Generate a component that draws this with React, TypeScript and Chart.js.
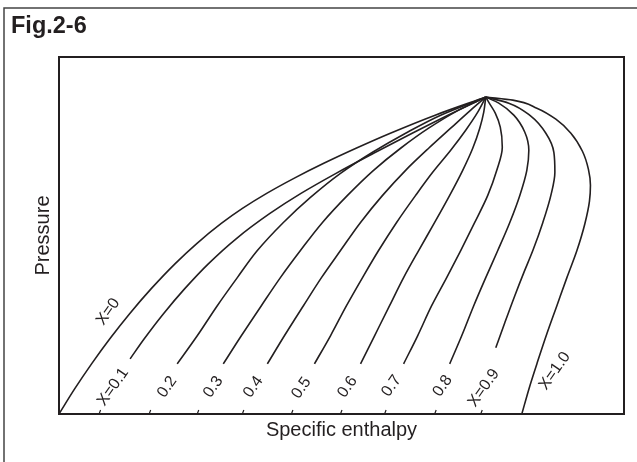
import React, { useEffect, useRef } from "react";
import { Chart, registerables } from "chart.js";

Chart.register(...registerables);

type Pt = [number, number];

// Axis extents (relative units)
const H_MAX = 112.8;
const P_MAX = 89;

// Quality lines on the P-h diagram: [specific enthalpy, pressure]
const lineX00: Pt[] = [[0, 0], [3.12, 6.25], [6.5, 12.5], [10.15, 18.75], [14.1, 25], [18.42, 31.25], [23.2, 37.5], [27.5, 42.5], [32.4, 47.5], [36.62, 51.25], [41.46, 55], [46.9, 58.75], [52.86, 62.5], [59.3, 66.25], [66.15, 70], [75.1, 74.5], [85.2, 79]];
const lineX01: Pt[] = [[14.2, 13.75], [17.02, 18.75], [20.86, 25], [25.11, 31.25], [29.86, 37.5], [35.42, 43.75], [42.11, 50], [48.31, 55], [55.31, 60], [62.81, 65], [70.51, 70], [77.66, 74.5], [85.2, 79]];
const lineX02: Pt[] = [[23.6, 12.5], [27.6, 19.5], [31.6, 27], [35.6, 34], [39.6, 40.75], [44.8, 47.75], [50.2, 54], [56.2, 60], [62.6, 65.25], [69.2, 70], [76.2, 74.5], [85.2, 79]];
const lineX03: Pt[] = [[32.8, 12.5], [36.4, 19.5], [40.4, 27], [44.2, 34], [48.2, 40.75], [52.6, 47.75], [57.6, 54.5], [62.8, 60.75], [68.2, 66.25], [73.8, 71.25], [79.8, 75.75], [85.2, 79]];
const lineX04: Pt[] = [[41.6, 12.5], [45, 19.5], [48.8, 27], [52.4, 34], [56.2, 40.75], [60.2, 47.75], [64.6, 54.5], [69.2, 60.75], [73.8, 66.25], [78.2, 71.25], [82.2, 75.75], [85.2, 79]];
const lineX05: Pt[] = [[51, 12.5], [54.2, 19.5], [57.4, 27], [60.6, 34], [63.8, 40.75], [67.4, 47.75], [71.2, 54.5], [74.6, 60.25], [78.2, 65.75], [81.2, 70.75], [83.6, 75.25], [85.2, 79]];
const lineX06: Pt[] = [[60.2, 12.5], [63, 19.5], [66, 27], [68.8, 34], [71.8, 40.75], [75, 47.75], [78, 54.5], [80.6, 60.75], [82.6, 66.25], [84, 71.25], [84.8, 75.25], [85.2, 79]];
const lineX07: Pt[] = [[68.8, 12.5], [71.6, 19.5], [74.4, 27], [77.4, 34], [80.2, 40.75], [83, 47.75], [85.6, 54.5], [87.4, 60.75], [88.5, 66.5], [88.1, 71.5], [87.1, 75], [85.9, 77.5], [85.2, 79]];
const lineX08: Pt[] = [[78, 12.5], [80.4, 19.5], [82.8, 27], [85.2, 34], [87.6, 40.75], [90, 47.75], [92, 54.5], [93.4, 60.75], [93.8, 65.75], [93, 70.25], [90.8, 74.5], [87.8, 77.5], [85.2, 79]];
const lineX09: Pt[] = [[87.2, 16.5], [89, 22.75], [91, 29.5], [92.8, 35.25], [94.6, 40.75], [96.6, 47.75], [98.2, 54.5], [99, 60.25], [98.8, 65.25], [97.2, 70], [94.2, 74.25], [89.8, 77.5], [85.2, 79]];
const lineX10: Pt[] = [[92.4, 0], [94, 7], [95.6, 13.25], [97.4, 20], [99.4, 27], [101.4, 34], [103.4, 40.75], [105, 47.5], [105.9, 53], [106.1, 57], [105.7, 61], [104.5, 65.5], [102.2, 70], [99.2, 73.5], [95.4, 76.25], [90.6, 78.25], [85.2, 79]];

const qualityLines: Pt[][] = [lineX00, lineX01, lineX02, lineX03, lineX04, lineX05, lineX06, lineX07, lineX08, lineX09, lineX10];
const qualityNames = ["X=0", "X=0.1", "X=0.2", "X=0.3", "X=0.4", "X=0.5", "X=0.6", "X=0.7", "X=0.8", "X=0.9", "X=1.0"];

// Curve labels (text, enthalpy, pressure)
const labelTexts = ["X=0", "X=0.1", "0.2", "0.3", "0.4", "0.5", "0.6", "0.7", "0.8", "X=0.9", "X=1.0"];
const labelH = [9.8, 10.8, 21.6, 30.8, 38.8, 48.4, 57.6, 66.4, 76.6, 84.8, 99];
const labelP = [25.5, 6.75, 6.75, 6.75, 6.75, 6.5, 6.75, 7, 7, 6.5, 10.75];

// Small marks on the enthalpy axis
const tickH = [8, 18, 27.6, 36.6, 46.4, 56.2, 65, 75, 84.2];

const INK = "#231f20";
const FONT = "'Liberation Sans', Arial, Helvetica, sans-serif";

const decorPlugin = {
  id: "decor",
  beforeDraw(chart: any) {
    const ctx = chart.ctx;
    ctx.save();
    ctx.strokeStyle = "#444";
    ctx.lineWidth = 1.5;
    ctx.strokeRect(4, 8, 900, 900);
    ctx.restore();
  },
  afterDatasetsDraw(chart: any) {
    const { ctx, chartArea, scales } = chart;
    ctx.save();
    ctx.strokeStyle = INK;
    ctx.lineWidth = 2;
    ctx.strokeRect(chartArea.left, chartArea.top, chartArea.right - chartArea.left, chartArea.bottom - chartArea.top);
    ctx.fillStyle = INK;
    ctx.font = `16px ${FONT}`;
    ctx.textAlign = "center";
    ctx.textBaseline = "middle";
    labelTexts.forEach((t, i) => {
      const px = scales.x.getPixelForValue(labelH[i]);
      const py = scales.y.getPixelForValue(labelP[i]);
      ctx.save();
      ctx.translate(px, py);
      ctx.rotate((-55 * Math.PI) / 180);
      ctx.fillText(t, 0, 0);
      ctx.restore();
    });
    ctx.restore();
  },
};

export default function App() {
  const ref = useRef<HTMLCanvasElement | null>(null);

  useEffect(() => {
    if (!ref.current) return;
    const tickData: any[] = [];
    tickH.forEach((h) => {
      tickData.push({ x: h, y: 0 });
      tickData.push({ x: h + 0.3, y: 1 });
      tickData.push({ x: null, y: null });
    });
    const datasets: any[] = qualityLines.map((pts, i) => ({
      label: qualityNames[i],
      data: pts.map(([h, p]) => ({ x: h, y: p })),
      borderColor: INK,
      borderWidth: 1.6,
      pointRadius: 0,
      cubicInterpolationMode: "monotone",
      fill: false,
    }));
    datasets.push({
      label: "marks",
      data: tickData,
      borderColor: INK,
      borderWidth: 1.2,
      pointRadius: 0,
      tension: 0,
      spanGaps: false,
      fill: false,
    });
    const chart = new Chart(ref.current, {
      type: "line",
      data: { datasets },
      options: {
        indexAxis: "y",
        animation: false,
        responsive: false,
        maintainAspectRatio: false,
        layout: { padding: { left: 31, top: 57, right: 13, bottom: 20 } },
        plugins: { legend: { display: false }, tooltip: { enabled: false } },
        scales: {
          x: {
            type: "linear",
            min: 0,
            max: H_MAX,
            ticks: { display: false },
            grid: { display: false, drawTicks: false },
            border: { display: false },
            title: {
              display: true,
              text: "Specific enthalpy",
              color: INK,
              font: { size: 20, family: FONT },
              padding: { top: 4, bottom: 0 },
            },
          },
          y: {
            type: "linear",
            min: 0,
            max: P_MAX,
            ticks: { display: false },
            grid: { display: false, drawTicks: false },
            border: { display: false },
            title: {
              display: true,
              text: "Pressure",
              color: INK,
              font: { size: 20, family: FONT },
              padding: { top: 0, bottom: 4 },
            },
          },
        },
      },
      plugins: [decorPlugin],
    });
    return () => chart.destroy();
  }, []);

  return (
    <div style={{ position: "fixed", left: 0, top: 0, width: 637, height: 462, background: "#fff", overflow: "hidden" }}>
      <canvas ref={ref} width={637} height={462} style={{ position: "absolute", left: 0, top: 0, width: 637, height: 462 }} />
      <div
        style={{
          position: "absolute",
          left: 11,
          top: 12,
          fontFamily: FONT,
          fontWeight: "bold",
          fontSize: 23.5,
          lineHeight: "normal",
          color: INK,
          whiteSpace: "nowrap",
        }}
      >
        Fig.2-6
      </div>
    </div>
  );
}
